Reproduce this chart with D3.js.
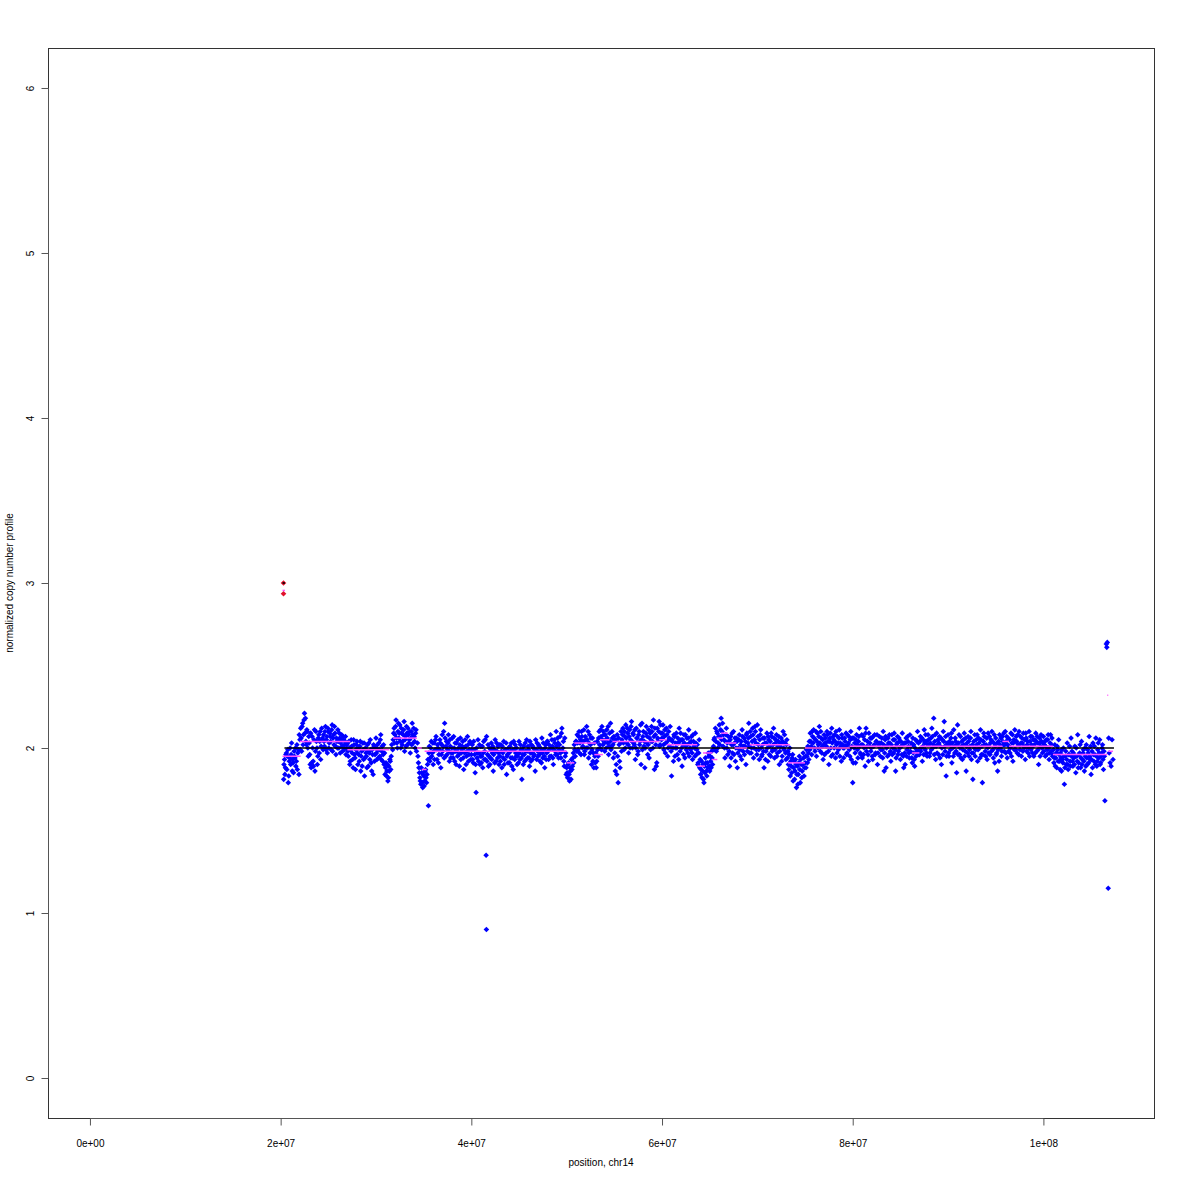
<!DOCTYPE html>
<html>
<head>
<meta charset="utf-8">
<script src="https://cdn.jsdelivr.net/npm/d3@7"></script>
<style>
html,body{margin:0;padding:0;background:#fff;}
svg{display:block;}
text{font-family:"Liberation Sans",Arial,Helvetica,sans-serif;fill:#000;}
</style>
</head>
<body>
<svg id="chart" width="1180" height="1180"></svg>
<script>
// ---- data (position in Mb, normalized copy number) ----
const xTicks = [0, 20, 40, 60, 80, 100];
const xTickLabels = ["0e+00", "2e+07", "4e+07", "6e+07", "8e+07", "1e+08"];
const yTicks = [0, 1, 2, 3, 4, 5, 6];
const yTickLabels = ["0", "1", "2", "3", "4", "5", "6"];

const probes20 = [[20.32,1.81],[20.41,1.93],[20.5,1.88],[20.61,1.97],[20.7,1.95],[20.8,1.79],[20.91,1.92],[21.0,2.0],[21.1,1.96],[21.22,1.86],[21.3,1.91],[21.41,1.98],[21.5,1.94],[21.6,1.89],[21.71,2.02],[21.8,1.97],[21.92,1.84],
[22.02,2.05],[22.1,2.12],[22.2,1.98],[22.31,2.15],[22.4,2.08],[22.5,2.21],[22.6,2.18],[22.71,2.02],[22.8,2.1],[22.9,1.95],
[23.0,2.03],[23.1,1.9],[23.2,1.88],[23.3,2.07],[23.41,1.92],[23.5,2.05],[23.6,1.86],[23.7,2.1],[23.81,2.0],[23.9,1.95],[24.0,2.08],[24.1,2.04],[24.2,1.93],[24.31,2.12],[24.4,2.06],
[24.5,2.08],[24.6,2.01],[24.7,2.13],[24.8,2.05],[24.9,1.97],[25.0,2.1],[25.1,2.03],[25.2,2.07],[25.3,1.99],[25.4,2.14],[25.5,2.06],[25.6,2.02],[25.7,2.09],[25.8,1.96],[25.9,2.04],[26.0,2.11],[26.1,2.0],[26.2,2.06],[26.3,2.03],[26.4,2.08],[26.5,1.98],[26.6,2.05],[26.7,2.02],[26.8,2.07],[26.9,2.0],
[27.0,2.03],[27.1,1.95],[27.2,2.0],[27.3,1.92],[27.4,2.05],[27.5,1.97],[27.6,1.88],[27.7,2.02],[27.8,1.94],[27.9,1.99],
[28.0,2.04],[28.1,1.9],[28.2,1.96],[28.3,2.01],[28.4,1.86],[28.5,1.98],[28.6,2.03],[28.7,1.93],[28.8,1.83],[28.9,2.0],
[29.0,1.95],[29.1,2.02],[29.2,1.89],[29.3,1.97],[29.4,2.05],[29.5,1.91],[29.6,1.99],[29.7,1.84],[29.8,2.01],[29.9,1.96]];
const probes20b = [[20.35,1.9],[20.45,1.84],[20.55,1.96],[20.65,1.87],[20.75,1.99],[20.85,1.83],[20.95,1.94],[21.05,1.9],[21.15,2.03],[21.25,1.93],[21.35,1.85],[21.45,1.95],[21.55,2.0],[21.65,1.92],[21.75,1.87],[21.85,1.99],[21.95,2.08],
[22.05,1.99],[22.15,2.06],[22.25,2.13],[22.35,2.02],[22.45,2.17],[22.55,2.09],[22.65,2.04],[22.75,2.11],[22.85,2.0],[22.95,2.07],
[23.05,1.96],[23.15,2.09],[23.25,1.91],[23.35,2.0],[23.45,1.89],[23.55,2.11],[23.65,1.98],[23.75,2.04],[23.85,1.9],[23.95,2.06],[24.05,1.97],[24.15,2.1],[24.25,2.01],[24.35,2.05],[24.45,1.99],
[24.55,2.04],[24.65,2.1],[24.75,1.99],[24.85,2.07],[24.95,2.12],[25.05,2.0],[25.15,2.09],[25.25,2.04],[25.35,2.11],[25.45,1.98],[25.55,2.08],[25.65,2.13],[25.75,2.01],[25.85,2.06],[25.95,2.0],[26.05,2.04],[26.15,2.09],[26.25,1.97],[26.35,2.05],[26.45,2.01],[26.55,2.07],[26.65,1.99],[26.75,2.04],[26.85,1.96],[26.95,2.02],
[27.05,1.98],[27.15,2.04],[27.25,1.9],[27.35,1.99],[27.45,2.01],[27.55,1.93],[27.65,2.05],[27.75,1.96],[27.85,1.87],[27.95,2.02],[28.05,1.97],[28.15,2.0],[28.25,1.92],[28.35,2.04],[28.45,1.95],[28.55,1.89],[28.65,1.99],[28.75,2.03],[28.85,1.94],[28.95,1.97],
[29.05,1.88],[29.15,1.98],[29.25,2.03],[29.35,1.93],[29.45,1.99],[29.55,1.86],[29.65,1.96],[29.75,2.02],[29.85,1.92],[29.95,2.0]];

const probes30 = [[30.0,2.06],[30.1,1.93],[30.2,1.99],[30.3,2.03],[30.4,1.95],[30.5,2.08],[30.6,1.98],[30.7,1.92],[30.8,2.02],[30.9,1.97],
[31.0,1.88],[31.1,1.83],[31.2,1.9],[31.3,1.82],[31.4,1.86],[31.5,1.92],[31.6,1.95],
[31.8,2.05],[31.9,2.12],[32.0,2.08],[32.1,2.17],[32.2,2.03],[32.3,2.1],[32.4,2.06],[32.5,2.14],[32.6,2.0],[32.7,2.09],[32.8,2.04],[32.9,2.11],[33.0,1.98],[33.1,2.07],[33.2,2.13],[33.3,2.02],[33.4,2.08],[33.5,2.05],[33.6,1.97],[33.7,2.1],[33.8,2.15],[33.9,2.03],[34.0,2.07],[34.1,2.0],[34.2,2.11],
[34.4,1.95],[34.5,1.88],[34.6,1.82],[34.7,1.78],[34.8,1.85],[34.9,1.76],[35.0,1.83],[35.1,1.8],[35.2,1.87],[35.3,1.79],[35.5,1.65],[35.4,1.9],
[35.6,2.01],[35.7,1.94],[35.8,2.04],[35.9,1.97],[36.0,1.9],[36.1,2.03],[36.2,1.99],[36.3,2.07],[36.4,1.93],[36.5,2.0],[36.6,1.96],[36.7,2.05],[36.8,1.88],[36.9,2.02],[37.0,1.98],[37.1,2.1],[37.2,2.15],[37.3,1.95],[37.4,2.04],[37.5,1.99],[37.6,2.08],[37.7,1.92],[37.8,2.01],[37.9,1.97],
[38.0,2.06],[38.1,1.94],[38.2,2.0],[38.3,2.03],[38.4,1.9],[38.5,1.98],[38.6,2.05],[38.7,1.96],[38.8,2.02],[38.9,1.93],[39.0,1.99],[39.1,2.04],[39.2,1.87],[39.3,1.97],[39.4,2.01],[39.5,1.95],[39.6,2.07],[39.7,1.92],[39.8,1.99],[39.9,2.03]];
const probes30b = [[30.05,1.97],[30.15,2.02],[30.25,1.94],[30.35,1.99],[30.45,2.05],[30.55,1.93],[30.65,2.01],[30.75,1.96],[30.85,1.9],[30.95,1.84],
[31.05,1.91],[31.15,1.86],[31.25,1.8],[31.35,1.89],[31.45,1.93],[31.55,1.87],[31.65,2.02],[31.75,1.99],
[31.85,2.09],[31.95,2.03],[32.05,2.13],[32.15,2.06],[32.25,2.0],[32.35,2.15],[32.45,2.09],[32.55,2.04],[32.65,2.12],[32.75,2.02],[32.85,2.08],[32.95,2.16],[33.05,2.05],[33.15,2.01],[33.25,2.09],[33.35,2.12],[33.45,2.03],[33.55,2.1],[33.65,2.06],[33.75,2.02],[33.85,2.08],[33.95,2.12],[34.05,2.04],[34.15,2.09],[34.25,1.98],[34.35,2.03],
[34.45,1.91],[34.55,1.85],[34.65,1.8],[34.75,1.88],[34.85,1.79],[34.95,1.84],[35.05,1.77],[35.15,1.86],[35.25,1.82],[35.35,1.84],[35.45,1.93],[35.55,1.97],
[35.65,1.92],[35.75,2.0],[35.85,1.95],[35.95,2.03],[36.05,1.98],[36.15,1.93],[36.25,2.05],[36.35,1.99],[36.45,2.02],[36.55,1.91],[36.65,1.99],[36.75,2.03],[36.85,1.96],[36.95,2.08],[37.05,2.01],[37.15,1.94],[37.25,2.06],[37.35,2.01],[37.45,1.96],[37.55,2.03],[37.65,1.98],[37.75,2.05],[37.85,1.94],[37.95,2.0],
[38.05,1.97],[38.15,2.07],[38.25,1.92],[38.35,1.98],[38.45,2.03],[38.55,1.95],[38.65,2.0],[38.75,1.89],[38.85,2.06],[38.95,1.97],[39.05,2.01],[39.15,1.94],[39.25,2.0],[39.35,2.05],[39.45,1.9],[39.55,1.98],[39.65,2.02],[39.75,1.96],[39.85,2.04],[39.95,1.93]];

const probes40 = [[40.0,1.96],[40.1,2.02],[40.2,1.91],[40.3,1.99],[40.4,1.85],[40.5,1.73],[40.6,1.94],[40.7,2.05],[40.8,1.97],[40.9,1.9],
[41.0,2.01],[41.1,1.95],[41.2,1.88],[41.3,2.04],[41.4,1.98],[41.5,1.93],[41.55,1.35],[41.58,0.9],[41.6,2.07],[41.7,1.96],[41.8,1.89],[41.9,2.0],
[42.0,1.94],[42.1,2.03],[42.2,1.97],[42.3,1.86],[42.4,1.99],[42.5,2.05],[42.6,1.92],[42.7,1.98],[42.8,2.01],[42.9,1.9],
[43.0,1.95],[43.1,2.02],[43.2,1.88],[43.3,1.97],[43.4,2.04],[43.5,1.93],[43.6,1.99],[43.7,1.84],[43.8,1.96],[43.9,2.0],
[44.0,1.91],[44.1,1.98],[44.2,2.03],[44.3,1.94],[44.4,1.87],[44.5,1.99],[44.6,2.02],[44.7,1.95],[44.8,1.9],[44.9,1.97],
[45.0,2.04],[45.1,1.93],[45.2,1.99],[45.3,1.81],[45.4,1.96],[45.5,2.01],[45.6,1.92],[45.7,1.98],[45.8,2.05],[45.9,1.94],
[46.0,1.99],[46.1,1.89],[46.2,1.97],[46.3,2.02],[46.4,1.93],[46.5,2.0],[46.6,1.96],[46.7,1.86],[46.8,1.99],[46.9,2.03],
[47.0,1.95],[47.1,2.01],[47.2,1.92],[47.3,1.98],[47.4,2.06],[47.5,1.94],[47.6,1.99],[47.7,1.88],[47.8,2.02],[47.9,1.97],
[48.0,2.04],[48.1,1.93],[48.2,1.99],[48.3,2.08],[48.4,1.95],[48.5,2.01],[48.6,1.9],[48.7,2.05],[48.8,1.98],[48.9,2.1],
[49.0,1.96],[49.1,2.03],[49.2,1.99],[49.3,2.07],[49.4,1.94],[49.5,2.12],[49.6,2.0],[49.7,1.92],[49.8,2.06],[49.9,1.97]];
const probes40b = [[40.05,1.99],[40.15,1.93],[40.25,2.04],[40.35,1.96],[40.45,1.9],[40.55,2.0],[40.65,1.97],[40.75,1.92],[40.85,2.02],[40.95,1.95],
[41.05,1.91],[41.15,2.01],[41.25,1.97],[41.35,1.93],[41.45,2.05],[41.65,1.92],[41.75,2.02],[41.85,1.95],[41.95,1.9],
[42.05,1.99],[42.15,1.93],[42.25,2.01],[42.35,1.96],[42.45,1.91],[42.55,1.98],[42.65,2.03],[42.75,1.94],[42.85,1.97],[42.95,2.02],
[43.05,1.92],[43.15,1.98],[43.25,2.01],[43.35,1.94],[43.45,1.9],[43.55,1.99],[43.65,2.03],[43.75,1.95],[43.85,1.91],[43.95,1.97],
[44.05,2.01],[44.15,1.94],[44.25,1.89],[44.35,1.99],[44.45,2.04],[44.55,1.93],[44.65,1.97],[44.75,2.0],[44.85,1.95],[44.95,1.91],
[45.05,1.97],[45.15,2.02],[45.25,1.94],[45.35,1.99],[45.45,1.9],[45.55,1.96],[45.65,2.03],[45.75,1.93],[45.85,1.98],[45.95,2.01],
[46.05,1.94],[46.15,2.04],[46.25,1.92],[46.35,1.97],[46.45,2.01],[46.55,1.95],[46.65,1.99],[46.75,2.05],[46.85,1.93],[46.95,1.98],
[47.05,2.02],[47.15,1.96],[47.25,2.0],[47.35,1.91],[47.45,1.97],[47.55,2.03],[47.65,1.95],[47.75,2.0],[47.85,1.93],[47.95,2.04],
[48.05,1.98],[48.15,2.02],[48.25,1.95],[48.35,2.0],[48.45,2.05],[48.55,1.94],[48.65,1.99],[48.75,2.03],[48.85,1.96],[48.95,2.01],
[49.05,2.06],[49.15,1.94],[49.25,2.02],[49.35,1.97],[49.45,2.09],[49.55,1.98],[49.65,2.04],[49.75,1.89],[49.85,1.95],[49.95,1.84]];

const probes50 = [[50.0,1.88],[50.1,1.82],[50.2,1.91],[50.3,1.8],[50.4,1.86],[50.5,1.93],[50.6,1.89],[50.7,1.97],[50.8,2.02],[50.9,1.95],
[51.0,2.04],[51.1,2.08],[51.2,1.99],[51.3,2.1],[51.4,2.03],[51.5,1.96],[51.6,2.07],[51.7,2.01],[51.8,2.11],[51.9,1.98],
[52.0,2.05],[52.1,2.13],[52.2,2.0],[52.3,1.94],[52.4,2.08],[52.5,2.02],[52.6,1.9],[52.7,2.06],[52.8,1.97],[52.9,2.03],
[53.0,1.91],[53.1,1.88],[53.2,2.04],[53.3,1.95],[53.4,2.1],[53.5,2.0],[53.6,2.07],[53.7,2.13],[53.8,2.02],[53.9,2.08],
[54.0,1.98],[54.1,2.05],[54.2,2.11],[54.3,2.03],[54.4,1.96],[54.5,2.09],[54.6,2.15],[54.7,2.01],[54.8,2.06],[54.9,1.94],
[55.0,2.04],[55.1,1.86],[55.2,1.9],[55.3,2.08],[55.4,1.79],[55.5,2.02],[55.6,1.88],[55.7,2.1],[55.8,2.05],[55.9,2.12],
[56.0,1.99],[56.1,2.07],[56.2,2.14],[56.3,2.03],[56.4,2.09],[56.5,1.97],[56.6,2.11],[56.7,2.05],[56.8,2.16],[56.9,2.0],
[57.0,2.08],[57.1,2.02],[57.2,1.93],[57.3,2.12],[57.4,2.06],[57.5,1.98],[57.6,2.1],[57.7,2.04],[57.8,1.9],[57.9,2.15],
[58.0,2.07],[58.1,2.01],[58.2,1.88],[58.3,2.09],[58.4,2.03],[58.5,1.96],[58.6,2.11],[58.7,2.06],[58.8,1.99],[58.9,2.13],
[59.0,2.04],[59.1,2.17],[59.2,1.87],[59.3,2.08],[59.4,1.89],[59.5,2.12],[59.6,2.05],[59.7,2.16],[59.8,2.02],[59.9,2.09]];
const probes50b = [[50.05,1.85],[50.15,1.9],[50.25,1.84],[50.35,1.88],[50.45,1.81],[50.55,1.87],[50.65,1.94],[50.75,1.91],[50.85,1.99],[50.95,2.04],
[51.05,1.98],[51.15,2.03],[51.25,2.07],[51.35,1.97],[51.45,2.05],[51.55,2.1],[51.65,2.0],[51.75,2.04],[51.85,1.96],[51.95,2.07],
[52.05,2.0],[52.15,2.05],[52.25,2.1],[52.35,2.03],[52.45,1.97],[52.55,2.06],[52.65,1.99],[52.75,1.92],[52.85,1.88],[52.95,1.95],
[53.05,1.97],[53.15,1.92],[53.25,1.99],[53.35,2.06],[53.45,2.02],[53.55,2.11],[53.65,1.99],[53.75,2.05],[53.85,2.1],[53.95,2.03],
[54.05,2.08],[54.15,2.0],[54.25,2.06],[54.35,2.13],[54.45,2.01],[54.55,2.04],[54.65,1.99],[54.75,2.1],[54.85,2.02],[54.95,2.07],
[55.05,1.97],[55.15,2.05],[55.25,1.84],[55.35,1.95],[55.45,2.06],[55.55,1.92],[55.65,2.03],[55.75,1.98],[55.85,2.08],[55.95,2.03],
[56.05,2.1],[56.15,2.0],[56.25,2.06],[56.35,2.12],[56.45,2.02],[56.55,2.07],[56.65,2.0],[56.75,2.13],[56.85,2.04],[56.95,2.09],
[57.05,2.03],[57.15,2.11],[57.25,2.0],[57.35,2.06],[57.45,1.96],[57.55,2.08],[57.65,2.02],[57.75,2.14],[57.85,2.05],[57.95,1.99],
[58.05,2.1],[58.15,2.04],[58.25,2.0],[58.35,2.13],[58.45,2.07],[58.55,2.02],[58.65,1.94],[58.75,2.09],[58.85,2.04],[58.95,2.1],
[59.05,2.0],[59.15,2.07],[59.25,2.12],[59.35,2.02],[59.45,1.91],[59.55,2.06],[59.65,2.1],[59.75,2.01],[59.85,2.14],[59.95,2.05]];

const probes60 = [[60.0,2.06],[60.1,2.14],[60.2,1.99],[60.3,2.11],[60.4,2.03],[60.5,2.08],[60.6,1.95],[60.7,2.1],[60.8,2.01],[60.9,2.05],
[61.0,1.83],[61.1,2.04],[61.2,1.92],[61.3,2.07],[61.4,2.0],[61.5,2.09],[61.6,1.96],[61.7,2.03],[61.8,2.12],[61.9,1.98],
[62.0,2.05],[62.1,1.89],[62.2,2.02],[62.3,2.08],[62.4,1.94],[62.5,2.01],[62.6,2.06],[62.7,1.97],[62.8,2.11],[62.9,2.03],
[63.0,1.99],[63.1,2.07],[63.2,1.93],[63.3,2.04],[63.4,2.0],[63.5,2.09],[63.6,1.96],[63.7,2.02],[63.8,1.91],[63.9,2.05],
[64.0,1.93],[64.1,1.87],[64.2,1.82],[64.3,1.9],[64.4,1.79],[64.5,1.85],[64.6,1.91],[64.7,1.83],[64.8,1.88],[64.9,1.95],
[65.0,1.86],[65.1,1.92],[65.2,1.98],[65.3,1.9],[65.4,2.01],[65.5,2.06],[65.6,2.12],[65.7,1.98],[65.8,2.09],[65.9,2.03],
[66.0,2.14],[66.1,2.07],[66.2,2.18],[66.3,2.1],[66.4,2.01],[66.5,2.05],[66.6,1.94],[66.7,2.08],[66.8,2.0],[66.9,1.96],
[67.0,2.04],[67.1,1.89],[67.2,2.07],[67.3,2.02],[67.4,1.97],[67.5,2.1],[67.6,2.03],[67.7,1.92],[67.8,2.06],[67.9,1.88],
[68.0,2.0],[68.1,2.08],[68.2,1.95],[68.3,2.04],[68.4,2.11],[68.5,1.98],[68.6,2.06],[68.7,2.01],[68.8,1.9],[68.9,2.09],
[69.0,2.03],[69.1,2.15],[69.2,1.97],[69.3,2.07],[69.4,2.0],[69.5,2.12],[69.6,1.94],[69.7,2.05],[69.8,2.1],[69.9,1.99]];
const probes60b = [[60.05,2.09],[60.15,2.02],[60.25,2.07],[60.35,1.97],[60.45,2.12],[60.55,2.04],[60.65,2.0],[60.75,2.06],[60.85,2.13],[60.95,1.98],
[61.05,2.05],[61.15,2.0],[61.25,2.08],[61.35,1.95],[61.45,2.03],[61.55,2.0],[61.65,2.06],[61.75,1.93],[61.85,2.04],[61.95,2.09],
[62.05,2.0],[62.15,2.05],[62.25,1.96],[62.35,2.03],[62.45,2.08],[62.55,1.99],[62.65,2.02],[62.75,2.06],[62.85,1.95],[62.95,2.0],
[63.05,2.04],[63.15,1.97],[63.25,2.08],[63.35,2.01],[63.45,1.95],[63.55,2.03],[63.65,1.99],[63.75,1.9],[63.85,1.97],[63.95,1.88],
[64.05,1.84],[64.15,1.92],[64.25,1.86],[64.35,1.81],[64.45,1.89],[64.55,1.94],[64.65,1.86],[64.75,1.91],[64.85,1.97],[64.95,1.89],
[65.05,1.95],[65.15,1.88],[65.25,1.94],[65.35,1.99],[65.45,2.05],[65.55,1.99],[65.65,2.04],[65.75,2.1],[65.85,2.0],[65.95,2.07],
[66.05,2.02],[66.15,2.11],[66.25,2.05],[66.35,2.15],[66.45,2.08],[66.55,2.0],[66.65,2.04],[66.75,2.12],[66.85,2.03],[66.95,2.07],
[67.05,1.98],[67.15,2.05],[67.25,1.94],[67.35,2.09],[67.45,2.02],[67.55,1.96],[67.65,2.06],[67.75,2.0],[67.85,2.04],[67.95,1.97],
[68.05,2.05],[68.15,1.99],[68.25,2.02],[68.35,1.93],[68.45,2.07],[68.55,2.01],[68.65,1.96],[68.75,2.04],[68.85,2.08],[68.95,1.98],
[69.05,2.06],[69.15,2.01],[69.25,2.1],[69.35,1.97],[69.45,2.04],[69.55,2.08],[69.65,2.0],[69.75,2.13],[69.85,2.03],[69.95,1.96]];

const probes70 = [[70.0,2.14],[70.1,2.02],[70.2,1.93],[70.3,2.08],[70.4,2.0],[70.5,1.96],[70.6,2.06],[70.7,1.88],[70.8,2.03],[70.9,1.98],
[71.0,2.09],[71.1,1.92],[71.2,2.05],[71.3,2.01],[71.4,1.95],[71.5,2.07],[71.6,1.99],[71.7,2.12],[71.8,1.94],[71.9,2.03],
[72.0,2.08],[72.1,1.97],[72.2,2.04],[72.3,1.9],[72.4,2.01],[72.5,2.06],[72.6,1.95],[72.7,2.1],[72.8,1.99],[72.9,2.03],
[73.0,1.93],[73.1,2.05],[73.2,1.98],[73.3,1.87],[73.4,2.0],[73.5,1.92],[73.6,1.85],[73.7,1.96],[73.8,1.88],[73.9,1.81],
[74.0,1.93],[74.1,1.76],[74.2,1.89],[74.3,1.84],[74.4,1.95],[74.5,1.79],[74.6,1.9],[74.7,1.86],[74.8,1.97],[74.9,1.83],
[75.0,1.91],[75.1,1.88],[75.2,1.95],[75.3,2.01],[75.4,1.93],[75.5,1.99],[75.6,2.04],[75.7,1.96],[75.8,2.07],[75.9,2.11],
[76.0,2.0],[76.1,2.05],[76.2,1.95],[76.3,2.09],[76.4,2.02],[76.5,2.13],[76.6,1.98],[76.7,2.06],[76.8,2.01],[76.9,1.93],
[77.0,2.08],[77.1,2.03],[77.2,1.97],[77.3,2.1],[77.4,2.04],[77.5,1.9],[77.6,2.06],[77.7,2.0],[77.8,2.12],[77.9,1.96],
[78.0,2.05],[78.1,2.08],[78.2,1.94],[78.3,2.02],[78.4,2.07],[78.5,1.99],[78.6,2.11],[78.7,2.03],[78.8,1.92],[78.9,2.06],
[79.0,2.0],[79.1,2.0],[79.2,2.04],[79.3,2.09],[79.4,1.97],[79.5,2.02],[79.6,2.07],[79.7,1.95],[79.8,2.1],[79.9,2.01]];
const probes70b = [[70.05,2.07],[70.15,1.99],[70.25,2.05],[70.35,2.11],[70.45,1.95],[70.55,2.02],[70.65,1.98],[70.75,2.06],[70.85,1.93],[70.95,2.03],
[71.05,2.0],[71.15,2.07],[71.25,1.96],[71.35,2.04],[71.45,2.09],[71.55,1.98],[71.65,2.02],[71.75,2.06],[71.85,1.99],[71.95,2.05],
[72.05,1.95],[72.15,2.01],[72.25,2.07],[72.35,1.98],[72.45,2.03],[72.55,1.92],[72.65,2.04],[72.75,2.0],[72.85,2.08],[72.95,1.97],
[73.05,2.02],[73.15,1.94],[73.25,1.9],[73.35,1.96],[73.45,1.83],[73.55,1.89],[73.65,1.94],[73.75,1.8],[73.85,1.92],[73.95,1.86],
[74.05,1.9],[74.15,1.84],[74.25,1.78],[74.35,1.91],[74.45,1.87],[74.55,1.93],[74.65,1.82],[74.75,1.9],[74.85,1.94],[74.95,1.88],
[75.05,1.95],[75.15,1.99],[75.25,1.91],[75.35,1.97],[75.45,2.04],[75.55,2.09],[75.65,2.01],[75.75,2.1],[75.85,2.03],[75.95,2.06],
[76.05,1.98],[76.15,2.1],[76.25,2.04],[76.35,2.0],[76.45,2.07],[76.55,2.03],[76.65,2.1],[76.75,1.97],[76.85,2.05],[76.95,2.02],
[77.05,1.96],[77.15,2.06],[77.25,2.01],[77.35,2.08],[77.45,1.98],[77.55,2.04],[77.65,2.09],[77.75,1.95],[77.85,2.03],[77.95,2.07],
[78.05,2.0],[78.15,2.04],[78.25,2.1],[78.35,1.97],[78.45,2.03],[78.55,2.06],[78.65,1.95],[78.75,2.01],[78.85,2.08],[78.95,2.02],
[79.05,1.94],[79.15,2.06],[79.25,2.01],[79.35,1.96],[79.45,2.08],[79.55,2.03],[79.65,1.99],[79.75,2.05],[79.85,1.93],[79.95,2.06]];

const probes80 = [[80.0,1.79],[80.1,2.06],[80.2,2.03],[80.3,1.91],[80.4,2.08],[80.5,1.99],[80.6,2.04],[80.7,2.12],[80.8,1.97],[80.9,2.02],
[81.0,1.94],[81.1,2.07],[81.2,2.0],[81.3,1.89],[81.4,2.12],[81.5,2.01],[81.6,1.96],[81.7,2.09],[81.8,2.03],[81.9,1.98],
[82.0,2.06],[82.1,1.93],[82.2,2.01],[82.3,2.08],[82.4,1.97],[82.5,2.04],[82.6,1.9],[82.7,2.02],[82.8,2.07],[82.9,1.95],
[83.0,2.03],[83.1,1.99],[83.2,2.1],[83.3,1.86],[83.4,2.05],[83.5,1.88],[83.6,2.01],[83.7,2.06],[83.8,1.96],[83.9,2.03],
[84.0,1.92],[84.1,2.08],[84.2,2.0],[84.3,1.97],[84.4,2.05],[84.5,1.86],[84.6,2.02],[84.7,2.07],[84.8,1.98],[84.9,2.04],
[85.0,1.93],[85.1,2.01],[85.2,2.09],[85.3,1.95],[85.4,2.03],[85.5,1.9],[85.6,2.06],[85.7,1.99],[85.8,2.04],[85.9,1.97],
[86.0,2.08],[86.1,2.01],[86.2,1.94],[86.3,2.06],[86.4,2.02],[86.5,1.89],[86.6,2.05],[86.7,1.98],[86.8,2.1],[86.9,2.03],
[87.0,1.96],[87.1,2.07],[87.2,2.0],[87.3,1.92],[87.4,2.05],[87.5,2.11],[87.6,1.99],[87.7,2.04],[87.8,1.95],[87.9,2.08],
[88.0,2.02],[88.1,1.97],[88.2,2.06],[88.3,2.12],[88.4,2.0],[88.5,2.18],[88.6,2.04],[88.7,1.93],[88.8,2.09],[88.9,2.02],
[89.0,1.96],[89.1,2.07],[89.2,2.01],[89.3,1.9],[89.4,2.05],[89.5,2.1],[89.6,2.16],[89.7,1.98],[89.8,1.83],[89.9,2.03]];
const probes80b = [[80.05,1.91],[80.15,2.0],[80.25,1.97],[80.35,2.05],[80.45,2.02],[80.55,1.94],[80.65,2.07],[80.75,2.01],[80.85,1.96],[80.95,2.08],
[81.05,2.02],[81.15,1.96],[81.25,2.05],[81.35,2.09],[81.45,1.98],[81.55,2.04],[81.65,1.92],[81.75,2.01],[81.85,2.06],[81.95,2.0],
[82.05,1.95],[82.15,2.07],[82.25,2.02],[82.35,1.96],[82.45,2.04],[82.55,2.08],[82.65,1.97],[82.75,2.01],[82.85,2.03],[82.95,1.99],
[83.05,2.06],[83.15,1.94],[83.25,2.02],[83.35,1.97],[83.45,2.07],[83.55,2.0],[83.65,1.95],[83.75,2.03],[83.85,2.08],[83.95,1.98],
[84.05,2.02],[84.15,1.96],[84.25,2.05],[84.35,2.09],[84.45,1.99],[84.55,1.94],[84.65,2.03],[84.75,1.96],[84.85,2.06],[84.95,2.0],
[85.05,2.04],[85.15,1.96],[85.25,2.02],[85.35,1.88],[85.45,1.97],[85.55,2.03],[85.65,1.95],[85.75,2.07],[85.85,2.01],[85.95,1.94],
[86.05,1.98],[86.15,2.03],[86.25,1.91],[86.35,1.97],[86.45,1.93],[86.55,2.0],[86.65,1.95],[86.75,2.04],[86.85,1.96],[86.95,1.99],
[87.05,2.04],[87.15,1.98],[87.25,2.06],[87.35,2.01],[87.45,1.96],[87.55,2.03],[87.65,2.08],[87.75,1.97],[87.85,2.02],[87.95,2.05],
[88.05,1.95],[88.15,2.03],[88.25,1.99],[88.35,2.07],[88.45,2.02],[88.55,1.96],[88.65,2.08],[88.75,2.01],[88.85,1.97],[88.95,2.05],
[89.05,2.03],[89.15,1.94],[89.25,2.06],[89.35,2.0],[89.45,1.96],[89.55,2.04],[89.65,2.01],[89.75,2.07],[89.85,1.95],[89.95,2.02]];

const probes90 = [[90.0,2.08],[90.1,1.95],[90.2,2.02],[90.3,2.06],[90.4,1.91],[90.5,2.0],[90.6,2.11],[90.7,1.97],[90.8,2.04],[90.9,1.85],
[91.0,2.14],[91.1,2.03],[91.2,1.96],[91.3,2.07],[91.4,2.01],[91.5,1.93],[91.6,2.05],[91.7,2.09],[91.8,1.98],[91.9,1.86],
[92.0,2.03],[92.1,2.07],[92.2,1.95],[92.3,2.01],[92.4,2.1],[92.5,1.97],[92.6,1.81],[92.7,2.04],[92.8,2.08],[92.9,1.99],
[93.0,2.02],[93.1,1.92],[93.2,2.06],[93.3,2.0],[93.4,2.11],[93.5,1.96],[93.6,1.79],[93.7,2.04],[93.8,2.07],[93.9,1.98],
[94.0,2.02],[94.1,1.93],[94.2,2.09],[94.3,2.01],[94.4,1.96],[94.5,2.05],[94.6,2.1],[94.7,1.99],[94.8,2.03],[94.9,1.91],
[95.0,2.06],[95.1,1.97],[95.2,1.86],[95.3,2.04],[95.4,2.08],[95.5,2.0],[95.6,1.95],[95.7,2.07],[95.8,2.02],[95.9,1.98],
[96.0,2.1],[96.1,2.04],[96.2,1.94],[96.3,2.06],[96.4,2.01],[96.5,1.97],[96.6,2.09],[96.7,2.03],[96.8,1.92],[96.9,2.05],
[97.0,2.11],[97.1,1.99],[97.2,2.04],[97.3,2.08],[97.4,1.96],[97.5,2.02],[97.6,2.07],[97.7,1.95],[97.8,2.03],[97.9,2.09],
[98.0,2.0],[98.1,1.93],[98.2,2.06],[98.3,2.02],[98.4,1.97],[98.5,2.1],[98.6,2.04],[98.7,1.99],[98.8,2.07],[98.9,2.01],
[99.0,1.95],[99.1,2.05],[99.2,2.09],[99.3,1.98],[99.4,2.03],[99.5,1.9],[99.6,2.06],[99.7,2.01],[99.8,2.04],[99.9,1.97]];
const probes90b = [[90.05,1.97],[90.15,2.04],[90.25,1.99],[90.35,2.09],[90.45,2.03],[90.55,1.95],[90.65,2.01],[90.75,2.06],[90.85,1.98],[90.95,2.02],
[91.05,1.96],[91.15,2.08],[91.25,2.0],[91.35,1.94],[91.45,2.04],[91.55,1.99],[91.65,2.02],[91.75,1.95],[91.85,2.06],[91.95,2.01],
[92.05,1.97],[92.15,2.04],[92.25,1.99],[92.35,2.06],[92.45,1.93],[92.55,2.02],[92.65,1.97],[92.75,2.0],[92.85,1.95],[92.95,2.05],
[93.05,2.08],[93.15,1.99],[93.25,2.03],[93.35,1.94],[93.45,2.05],[93.55,2.01],[93.65,1.96],[93.75,2.09],[93.85,2.02],[93.95,1.95],
[94.05,2.06],[94.15,2.0],[94.25,1.97],[94.35,2.07],[94.45,2.03],[94.55,1.98],[94.65,2.04],[94.75,1.94],[94.85,2.08],[94.95,2.01],
[95.05,1.96],[95.15,2.03],[95.25,1.99],[95.35,1.92],[95.45,2.02],[95.55,2.06],[95.65,1.98],[95.75,2.04],[95.85,2.09],[95.95,2.02],
[96.05,1.97],[96.15,2.07],[96.25,2.02],[96.35,1.98],[96.45,2.05],[96.55,2.0],[96.65,1.95],[96.75,2.08],[96.85,2.03],[96.95,1.99],
[97.05,2.04],[97.15,2.07],[97.25,1.97],[97.35,2.02],[97.45,2.1],[97.55,1.99],[97.65,2.03],[97.75,2.06],[97.85,1.98],[97.95,2.01],
[98.05,2.05],[98.15,2.09],[98.25,1.98],[98.35,2.04],[98.45,2.0],[98.55,1.95],[98.65,2.07],[98.75,2.02],[98.85,1.97],[98.95,2.05],
[99.05,2.02],[99.15,1.97],[99.25,2.04],[99.35,2.07],[99.45,1.99],[99.55,2.03],[99.65,1.95],[99.75,2.08],[99.85,2.0],[99.95,2.03]];

const probes100 = [[100.0,2.07],[100.1,2.02],[100.2,1.95],[100.3,2.05],[100.4,1.99],[100.5,2.08],[100.6,1.93],[100.7,2.03],[100.8,1.98],[100.9,2.06],
[101.0,1.96],[101.1,1.91],[101.2,2.02],[101.3,1.94],[101.4,1.88],[101.5,1.99],[101.6,2.05],[101.7,1.92],[101.8,1.97],[101.9,1.86],
[102.0,1.93],[102.1,2.0],[102.2,1.78],[102.3,1.95],[102.4,1.9],[102.5,2.03],[102.6,1.87],[102.7,1.96],[102.8,1.92],[102.9,2.06],
[103.0,1.98],[103.1,1.89],[103.2,1.94],[103.3,2.01],[103.4,1.85],[103.5,1.95],[103.6,2.08],[103.7,1.91],[103.8,1.97],[103.9,1.88],
[104.0,2.04],[104.1,1.93],[104.2,1.99],[104.3,1.86],[104.4,1.95],[104.5,2.02],[104.6,1.9],[104.7,1.97],[104.8,2.07],[104.9,1.93],
[105.0,1.84],[105.1,1.98],[105.2,2.03],[105.3,1.92],[105.4,1.96],[105.5,2.06],[105.6,1.89],[105.7,1.99],[105.8,1.94],[105.9,2.05],
[106.0,1.91],[106.1,1.97],[106.2,2.02],[106.3,1.87],[106.4,1.95],[106.45,1.68],[106.6,2.63],[106.65,2.61],[106.7,2.64],[106.8,1.15],
[106.85,2.06],[106.9,1.97],[107.0,1.91],[107.1,1.89],[107.2,2.05],[107.3,1.93]];
const probes100b = [[100.05,1.98],[100.15,2.04],[100.25,2.01],[100.35,1.96],[100.45,2.05],[100.55,2.0],[100.65,1.97],[100.75,2.08],[100.85,2.02],[100.95,1.95],
[101.05,1.99],[101.15,1.94],[101.25,1.89],[101.35,1.97],[101.45,2.01],[101.55,1.92],[101.65,1.96],[101.75,1.87],[101.85,1.94],[101.95,1.99],
[102.05,1.91],[102.15,1.95],[102.25,1.88],[102.35,1.98],[102.45,1.93],[102.55,1.9],[102.65,1.96],[102.75,2.01],[102.85,1.89],[102.95,1.95],
[103.05,1.92],[103.15,1.97],[103.25,1.9],[103.35,1.95],[103.45,2.0],[103.55,1.92],[103.65,1.88],[103.75,1.96],[103.85,2.02],[103.95,1.94],
[104.05,1.9],[104.15,1.97],[104.25,1.92],[104.35,2.0],[104.45,1.89],[104.55,1.94],[104.65,1.99],[104.75,1.91],[104.85,1.95],[104.95,2.01],
[105.05,1.93],[105.15,1.88],[105.25,1.96],[105.35,2.01],[105.45,1.9],[105.55,1.95],[105.65,1.92],[105.75,2.03],[105.85,1.97],[105.95,1.9],
[106.05,1.95],[106.15,2.0],[106.25,1.93],[106.35,1.98]];

// points flagged red (high-copy probes at the start of the arm)
const redProbes = [[20.3,3.0],[20.3,2.935]];

// segment means [start Mb, end Mb, value]
const segmentsPink = [[20.2,22.1,1.95],[22.0,27.3,2.04],[27.0,31.4,1.99],[31.8,34.3,2.06],[34.3,34.8,2.0],[34.8,35.3,1.87],[35.1,50.0,1.98],
[50.0,50.8,1.91],[50.8,53.1,2.03],[52.9,53.8,1.96],[53.5,54.5,2.05],[54.8,59.7,2.04],[59.7,60.5,2.05],[60.5,63.7,2.02],[63.7,64.5,1.89],
[64.3,65.3,1.97],[65.2,65.8,1.93],[65.8,66.4,2.06],[66.2,66.9,2.09],[66.6,67.8,2.03],[67.6,68.9,2.0],[69.2,73.4,2.02],[73.2,75.0,1.91],
[75.0,79.7,2.0],[79.7,86.2,2.01],[86.2,87.0,1.97],[87.0,95.7,2.01],[95.7,96.4,2.04],[96.4,101.0,2.01],[101.0,106.7,1.96],
[106.7,106.8,1.89],[106.7,106.8,2.32],[106.8,107.3,1.98],[20.2,20.45,2.955]];
const segmentsBlack = [[20.2,20.45,3.0],[20.4,107.4,2.0]];

// ---- drawing ----
const plot = {left: 48, right: 1154, top: 48, bottom: 1118};
const svg = d3.select("#chart");

const x = d3.scaleLinear().domain([-4.4, 111.6]).range([plot.left, plot.right]);
const y = d3.scaleLinear().domain([-0.2424, 6.2424]).range([plot.bottom, plot.top]);

const allProbes = [].concat(probes20, probes20b, probes30, probes30b, probes40, probes40b, probes50, probes50b,
  probes60, probes60b, probes70, probes70b, probes80, probes80b, probes90, probes90b, probes100, probes100b);

const diamond = d3.symbol().type(d3.symbolDiamond2).size(20);

svg.append("g").selectAll("path").data(allProbes).join("path")
  .attr("d", diamond)
  .attr("transform", d => `translate(${x(d[0])},${y(d[1])})`)
  .attr("fill", "#0000ff");

svg.append("g").selectAll("path").data(redProbes).join("path")
  .attr("d", diamond)
  .attr("transform", d => `translate(${x(d[0])},${y(d[1])})`)
  .attr("fill", "#e0102a");

svg.append("g").selectAll("line").data(segmentsBlack).join("line")
  .attr("x1", d => x(d[0])).attr("x2", d => x(d[1]))
  .attr("y1", d => y(d[2])).attr("y2", d => y(d[2]))
  .attr("stroke", "#000").attr("stroke-width", 1.6);

svg.append("g").selectAll("line").data(segmentsPink).join("line")
  .attr("x1", d => x(d[0])).attr("x2", d => x(d[1]))
  .attr("y1", d => y(d[2])).attr("y2", d => y(d[2]))
  .attr("stroke", "#ff55ff").attr("stroke-width", 1.5);

// box
svg.append("rect")
  .attr("x", plot.left + 0.5).attr("y", plot.top + 0.5)
  .attr("width", plot.right - plot.left).attr("height", plot.bottom - plot.top)
  .attr("fill", "none").attr("stroke", "#333").attr("stroke-width", 1);

// x axis
const xAxis = d3.axisBottom(x).tickValues(xTicks).tickSize(7).tickPadding(14)
  .tickFormat((d, i) => xTickLabels[i]);
const gx = svg.append("g").attr("transform", `translate(0,${plot.bottom + 0.5})`).call(xAxis);
gx.select(".domain").attr("d", `M${x(0)},0H${x(100)}`).attr("stroke", "#555");
gx.selectAll(".tick line").attr("stroke", "#555");
gx.selectAll(".tick text").attr("font-size", 10).attr("font-family", "Liberation Sans, Arial, sans-serif").attr("fill", "#000");

// y axis
const yAxis = d3.axisLeft(y).tickValues(yTicks).tickSize(7).tickPadding(0)
  .tickFormat((d, i) => yTickLabels[i]);
const gy = svg.append("g").attr("transform", `translate(${plot.left + 0.5},0)`).call(yAxis);
gy.select(".domain").attr("d", `M0,${y(0)}V${y(6)}`).attr("stroke", "#555");
gy.selectAll(".tick line").attr("stroke", "#555");
gy.selectAll(".tick text")
  .attr("font-size", 10).attr("font-family", "Liberation Sans, Arial, sans-serif").attr("fill", "#000")
  .attr("x", null).attr("dy", null)
  .attr("text-anchor", "middle")
  .attr("transform", "translate(-15,0) rotate(-90)");

// titles
svg.append("text")
  .attr("x", (plot.left + plot.right) / 2).attr("y", 1166)
  .attr("text-anchor", "middle").attr("font-size", 10)
  .text("position, chr14");
svg.append("text")
  .attr("transform", `translate(13,${(plot.top + plot.bottom) / 2}) rotate(-90)`)
  .attr("text-anchor", "middle").attr("font-size", 10)
  .text("normalized copy number profile");
</script>
</body>
</html>
